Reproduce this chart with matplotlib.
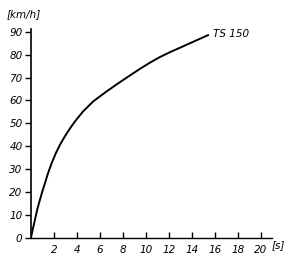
# plot.py
# 重绘 TS 150 加速曲线 (速度 km/h 随时间 s)

import matplotlib
matplotlib.use("Agg")
import matplotlib.pyplot as plt


# =========================
# 1. 数据
# =========================
time_s = [0.0, 0.15, 0.35, 0.55, 0.78, 1.0, 1.22, 1.5, 1.8, 2.15, 2.52,
          2.9, 3.2, 3.55, 3.9, 4.55, 5.42, 6.43, 7.45, 8.46, 9.48, 10.35,
          11.2, 12.1, 13.0, 13.8, 14.6, 15.4]
speed_kmh = [0.0, 3.5, 7.9, 12.4, 16.6, 20.4, 23.9, 28.4, 32.6, 36.8, 40.6,
             43.9, 46.3, 48.9, 51.3, 55.3, 59.6, 63.4, 67.0, 70.4, 73.8,
             76.5, 78.9, 81.1, 83.1, 84.9, 86.7, 88.5]

x_ticks = [2, 4, 6, 8, 10, 12, 14, 16, 18, 20]
y_ticks = [0, 10, 20, 30, 40, 50, 60, 70, 80, 90]
series_label = "TS 150"


# =========================
# 2. 绘图
# =========================
fig = plt.figure(figsize=(3.0, 2.64), dpi=100)
ax = fig.add_axes([0.103, 0.0985, 0.805, 0.79])

ax.plot(time_s, speed_kmh, color="black", linewidth=1.4,
        solid_joinstyle="round")

ax.set_xlim(0, 21)
ax.set_ylim(0, 91)

ax.spines["top"].set_visible(False)
ax.spines["right"].set_visible(False)
ax.spines["left"].set_linewidth(1.2)
ax.spines["bottom"].set_linewidth(1.0)

font = dict(family="DejaVu Sans", style="italic", size=7.5)

ax.set_xticks(x_ticks)
ax.set_xticklabels([str(t) for t in x_ticks], **font)
ax.set_yticks(y_ticks)
ax.set_yticklabels([str(t) for t in y_ticks], **font)

ax.tick_params(axis="x", direction="in", length=4, width=1, pad=5)
ax.tick_params(axis="y", direction="out", length=4, width=1, pad=2)

# 单位标签
ax.text(-0.03, 1.05, "[km/h]", transform=ax.transAxes, ha="center",
        va="bottom", **font)
ax.text(20.9, -3.2, "[s]", ha="left", va="center", **font)

# 曲线名称
ax.text(time_s[-1] + 0.4, speed_kmh[-1] + 0.5, series_label, ha="left",
        va="center", **font)

fig.savefig("out.png", dpi=100)
plt.close(fig)
